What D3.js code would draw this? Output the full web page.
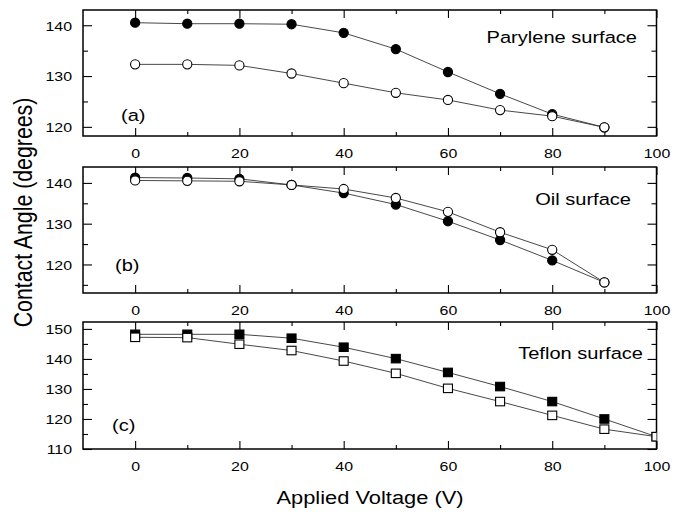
<!DOCTYPE html>
<html>
<head>
<meta charset="utf-8">
<script src="https://cdn.jsdelivr.net/npm/d3@7"></script>
<style>
  html, body { margin: 0; padding: 0; background: #fff; }
  svg { display: block; }
  text { font-family: "Liberation Sans", Arial, Helvetica, sans-serif; fill: #000; }
</style>
</head>
<body>
<svg id="chart" width="683" height="514"></svg>
<script>
// Applied voltage (V) at each measurement
const voltage = [0, 10, 20, 30, 40, 50, 60, 70, 80, 90];
const voltageTeflon = [0, 10, 20, 30, 40, 50, 60, 70, 80, 90, 100];

// Contact angle (degrees), filled = first run, open = second run
const paryleneFilled = [140.5, 140.3, 140.3, 140.2, 138.5, 135.3, 130.8, 126.5, 122.5, 119.9];
const paryleneOpen   = [132.3, 132.3, 132.1, 130.5, 128.6, 126.7, 125.3, 123.3, 122.1, 119.9];
const oilFilled      = [141.3, 141.2, 141.0, 139.5, 137.5, 134.7, 130.6, 126.0, 121.0, 115.6];
const oilOpen        = [140.6, 140.5, 140.4, 139.5, 138.5, 136.3, 132.9, 127.9, 123.6, 115.6];
const teflonFilled   = [148.2, 148.2, 148.2, 146.9, 143.9, 140.1, 135.5, 130.8, 125.8, 120.0, 114.1];
const teflonOpen     = [147.2, 147.1, 144.9, 142.8, 139.3, 135.2, 130.2, 125.8, 121.2, 116.6, 114.1];

// Axis ticks
const xMajor = [0, 20, 40, 60, 80, 100];
const xMinor = [10, 30, 50, 70, 90];
const yMajorA = [120, 130, 140];
const yMinorA = [125, 135];
const yMajorB = [120, 130, 140];
const yMinorB = [115, 125, 135];
const yMajorC = [110, 120, 130, 140, 150];
const yMinorC = [115, 125, 135, 145];

// Panel labels
const panelTags = ["(a)", "(b)", "(c)"];
const surfaceNames = ["Parylene surface", "Oil surface", "Teflon surface"];
const xTitle = "Applied Voltage (V)";
const yTitle = "Contact Angle (degrees)";

const SX = 1.18; // horizontal text stretch

const panels = [
  { top: 10,  bottom: 136, yDomain: [118.2, 143], yMajor: yMajorA, yMinor: yMinorA,
    xs: voltage, filled: paryleneFilled, open: paryleneOpen, marker: "circle",
    tag: panelTags[0], tagPos: [121, 121], name: surfaceNames[0], namePos: [637, 43] },
  { top: 167, bottom: 293, yDomain: [113, 143.9], yMajor: yMajorB, yMinor: yMinorB,
    xs: voltage, filled: oilFilled, open: oilOpen, marker: "circle",
    tag: panelTags[1], tagPos: [115, 271], name: surfaceNames[1], namePos: [631, 205] },
  { top: 322, bottom: 449, yDomain: [110, 152.3], yMajor: yMajorC, yMinor: yMinorC,
    xs: voltageTeflon, filled: teflonFilled, open: teflonOpen, marker: "square",
    tag: panelTags[2], tagPos: [112, 431], name: surfaceNames[2], namePos: [643, 359] }
];

const left = 83, right = 656.5;
const svg = d3.select("#chart");
const x = d3.scaleLinear().domain([-10, 100]).range([left, right]);

panels.forEach((p, i) => {
  const y = d3.scaleLinear().domain(p.yDomain).range([p.bottom, p.top]);
  const g = svg.append("g");
  const clipId = "clip" + i;
  svg.append("clipPath").attr("id", clipId)
    .append("rect").attr("x", left).attr("y", p.top)
    .attr("width", right - left).attr("height", p.bottom - p.top);

  // Ticks (all pointing inward)
  const axes = [
    [d3.axisBottom(x).tickValues(xMajor).tickSizeInner(-8), p.bottom, "x", true],
    [d3.axisBottom(x).tickValues(xMinor).tickSizeInner(-4).tickFormat(""), p.bottom, "x", false],
    [d3.axisTop(x).tickValues(xMajor).tickSizeInner(-8).tickFormat(""), p.top, "x", false],
    [d3.axisTop(x).tickValues(xMinor).tickSizeInner(-4).tickFormat(""), p.top, "x", false],
    [d3.axisLeft(y).tickValues(p.yMajor).tickSizeInner(-9), left, "y", true],
    [d3.axisLeft(y).tickValues(p.yMinor).tickSizeInner(-5).tickFormat(""), left, "y", false],
    [d3.axisRight(y).tickValues(p.yMajor).tickSizeInner(-9).tickFormat(""), right, "y", false],
    [d3.axisRight(y).tickValues(p.yMinor).tickSizeInner(-5).tickFormat(""), right, "y", false]
  ];
  axes.forEach(([ax, pos, dir, labelled]) => {
    ax.tickSizeOuter(0).tickPadding(0);
    const ag = g.append("g")
      .attr("transform", dir === "x" ? `translate(0,${pos})` : `translate(${pos},0)`)
      .call(ax);
    ag.select(".domain").remove();
    ag.selectAll(".tick line").attr("stroke", "#000").attr("stroke-width", 1.1);
    if (labelled) {
      const t = ag.selectAll(".tick text")
        .style("font-family", '"Liberation Sans", Arial, sans-serif')
        .attr("font-size", 13.5).attr("fill", "#000");
      if (dir === "x") {
        t.attr("y", 12.5).attr("x", 0).attr("transform", `scale(${SX},1)`);
      } else {
        t.attr("x", -11 / SX).attr("dy", "0.36em").attr("transform", `scale(${SX},1)`);
      }
    } else {
      ag.selectAll(".tick text").remove();
    }
  });

  // Frame
  g.append("rect")
    .attr("x", left).attr("y", p.top)
    .attr("width", right - left).attr("height", p.bottom - p.top)
    .attr("fill", "none").attr("stroke", "#000").attr("stroke-width", 1.5);

  const plot = g.append("g").attr("clip-path", `url(#${clipId})`);
  const line = d3.line().x(d => x(d[0])).y(d => y(d[1]));

  [p.filled, p.open].forEach((vals, k) => {
    const pts = p.xs.map((v, j) => [v, vals[j]]);
    plot.append("path").datum(pts)
      .attr("d", line).attr("fill", "none")
      .attr("stroke", "#333").attr("stroke-width", 0.9);
  });
  [p.filled, p.open].forEach((vals, k) => {
    const pts = p.xs.map((v, j) => [v, vals[j]]);
    const fill = k === 0 ? "#000" : "#fff";
    if (p.marker === "circle") {
      plot.selectAll(null).data(pts).enter().append("circle")
        .attr("cx", d => x(d[0])).attr("cy", d => y(d[1])).attr("r", 4.6)
        .attr("fill", fill).attr("stroke", "#000").attr("stroke-width", 1.1);
    } else {
      const w = 9, h = 8.5;
      plot.selectAll(null).data(pts).enter().append("rect")
        .attr("x", d => x(d[0]) - w / 2).attr("y", d => y(d[1]) - h / 2)
        .attr("width", w).attr("height", h)
        .attr("fill", fill).attr("stroke", "#000").attr("stroke-width", 1.1);
    }
  });

  g.append("text")
    .attr("transform", `translate(${p.tagPos[0]},${p.tagPos[1]}) scale(${SX},1)`)
    .attr("font-size", 17).text(p.tag);
  g.append("text")
    .attr("transform", `translate(${p.namePos[0]},${p.namePos[1]}) scale(${SX},1)`)
    .attr("text-anchor", "end").attr("font-size", 17).text(p.name);
});

svg.append("text")
  .attr("transform", `translate(370,504) scale(1.15,1)`)
  .attr("text-anchor", "middle").attr("font-size", 19).text(xTitle);

svg.append("text")
  .attr("transform", `translate(31.5,212.5) scale(1.17,1) rotate(-90)`)
  .attr("text-anchor", "middle").attr("font-size", 21.3).text(yTitle);
</script>
</body>
</html>
